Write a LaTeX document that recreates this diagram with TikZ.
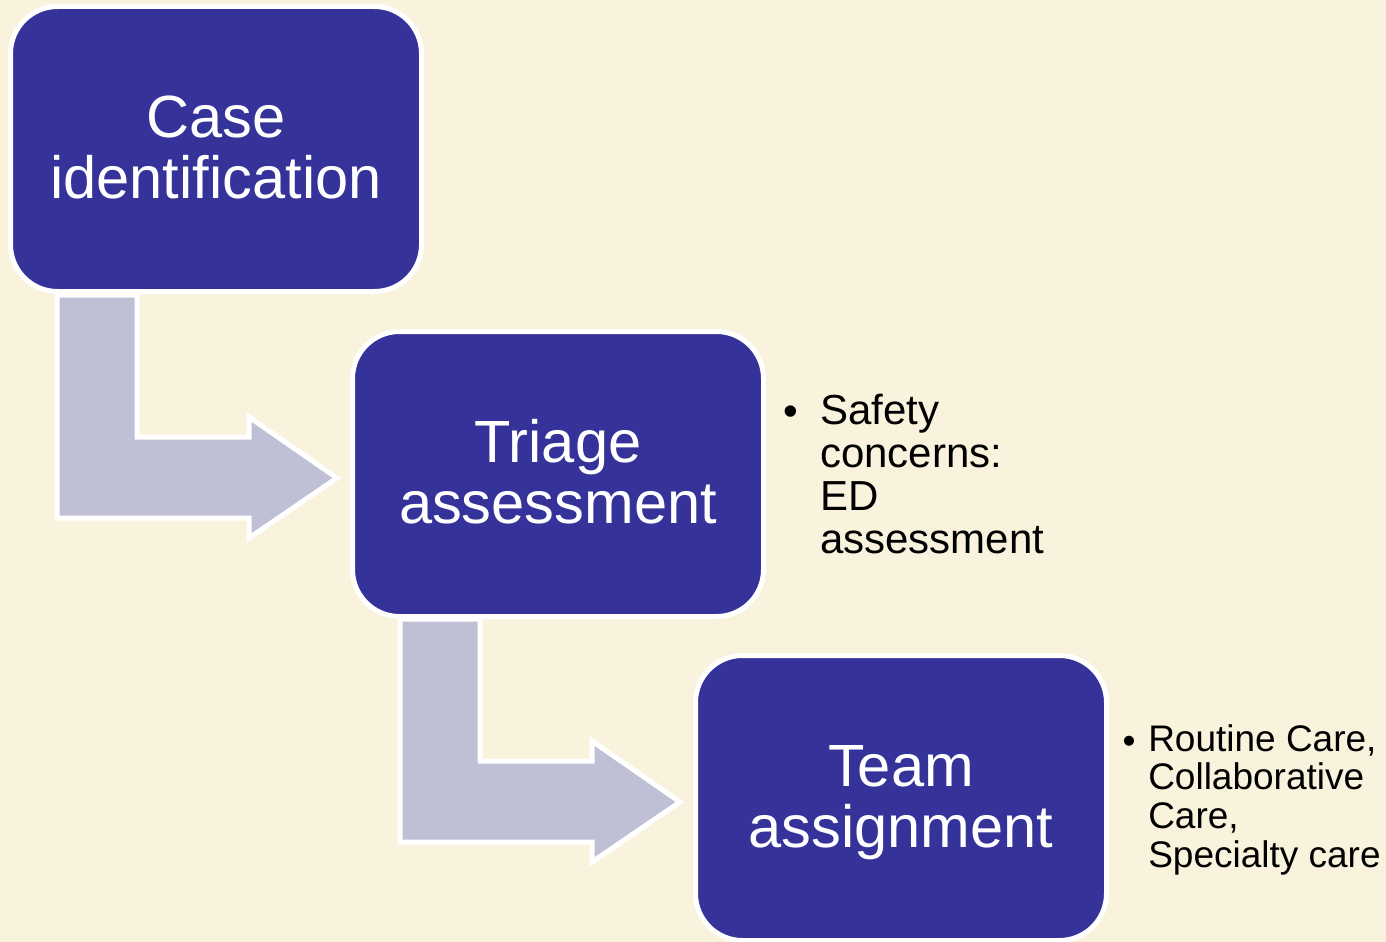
\documentclass[tikz,border=0pt]{standalone}
\usepackage{fontspec}
\setmainfont{Liberation Sans}
\definecolor{bgcream}{HTML}{F9F2DD}
\definecolor{boxblue}{HTML}{353399}
\definecolor{arrowlav}{HTML}{BFBFD6}
\newcommand{\toprl}{\rule{0pt}{37.5pt}}
\newcommand{\botrl}{\rule[-9.75pt]{0pt}{9.75pt}}
\begin{document}
\begin{tikzpicture}[x=0.75pt,y=-0.75pt,
  stagebox/.style={draw=white, line width=3.75pt, fill=boxblue, rounded corners=35.25pt,
    minimum width=308.25pt, minimum height=213.75pt, inner sep=0pt, text=white, align=center,
    font=\fontsize{44.7pt}{45.75pt}\selectfont},
  bentarrow/.style={draw=white, line width=3.75pt, fill=arrowlav, line join=miter},
  sidetext/.style={anchor=base west, inner sep=0pt, align=left, text=black},
  bulletmark/.style={anchor=base, inner sep=0pt, text=black}]
\fill[bgcream] (0,0) rectangle (1386,942);
\useasboundingbox (0,0) rectangle (1386,942);
% arrows
\draw[bentarrow] (57,295) -- (137,295) -- (137,437) -- (249,437) -- (249,417) -- (337,478) -- (249,538) -- (249,518) -- (57,518) -- cycle;
\draw[bentarrow] (400,619) -- (480,619) -- (480,761) -- (592,761) -- (592,741) -- (680,802) -- (592,862) -- (592,842) -- (400,842) -- cycle;
% boxes
\node[stagebox] (case) at (216,149) {\toprl Case\\identification\botrl};
\node[stagebox] (triage) at (558,474) {\toprl Triage\\assessment\botrl};
\node[stagebox] (team) at (901,798) {\toprl Team\\assignment\botrl};
% side texts
\node[bulletmark, font=\fontsize{31.5pt}{32.2pt}\selectfont] (b1) at (791,425) {\textbullet};
\node[sidetext, font=\fontsize{31.5pt}{32.2pt}\selectfont] (t1) at (820,553) {Safety\\concerns:\\ED\\assessment};
\node[bulletmark, font=\fontsize{27.75pt}{28.9pt}\selectfont] (b2) at (1129,753) {\textbullet};
\node[sidetext, font=\fontsize{27.75pt}{28.9pt}\selectfont] (t2) at (1148,867) {Routine Care,\\Collaborative\\Care,\\Specialty care};
\end{tikzpicture}
\end{document}
